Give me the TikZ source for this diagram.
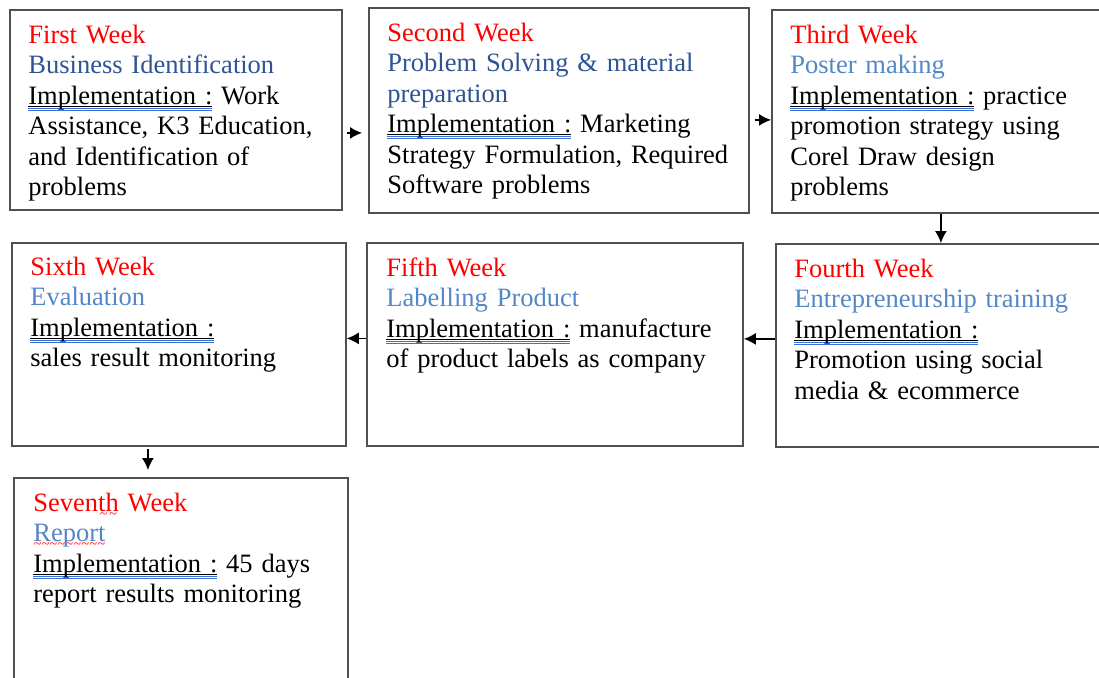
\documentclass[tikz,border=0pt]{standalone}
\usepackage{fontspec}
\setmainfont{Liberation Serif}
\usetikzlibrary{arrows.meta,calc}
\definecolor{weekred}{RGB}{255,0,0}
\definecolor{topicdark}{RGB}{47,84,150}
\definecolor{topiclight}{RGB}{84,135,198}
\definecolor{gramblue}{RGB}{60,110,220}
\definecolor{boxgray}{RGB}{80,80,80}
\newsavebox\implbox
\newsavebox\wavebox
\newcommand\implabel{%
  \leavevmode\sbox\implbox{Implementation :}%
  \rlap{\rule[-1.3pt]{\wd\implbox}{0.45pt}}%
  \rlap{\color{gramblue}\rule[-2.3pt]{\wd\implbox}{0.35pt}}%
  \rlap{\color{gramblue}\rule[-3.3pt]{\wd\implbox}{0.35pt}}%
  \usebox\implbox}
\newcommand\spellwave[1]{%
  \leavevmode\sbox\wavebox{#1}%
  \rlap{\color{red}\lower3.6pt\hbox to \wd\wavebox{\fontsize{7pt}{7pt}\selectfont
    \xleaders\hbox{\char"007E}\hfill}}%
  \usebox\wavebox}
\begin{document}
\begin{tikzpicture}[x=0.5pt, y=-0.5pt, >={Latex[length=6pt,width=6pt]},
    weekbox/.style={draw=boxgray, line width=0.9pt, inner sep=0pt, anchor=north west},
    weektext/.style={anchor=base west, inner sep=0pt, text width=180pt, align=left,
      font=\fontsize{13.25pt}{15.25pt}\selectfont},
    flow/.style={->, line width=0.7pt}]
\useasboundingbox (0,0) rectangle (1099,677);
% week boxes
\node[weekbox, minimum width=166pt, minimum height=100pt] (w1) at (9,9) {};
\node[weekbox, minimum width=190pt, minimum height=102.5pt] (w2) at (368,7) {};
\node[weekbox, minimum width=165pt, minimum height=101.5pt] (w3) at (771,9) {};
\node[weekbox, minimum width=165pt, minimum height=101.5pt] (w4) at (775,243) {};
\node[weekbox, minimum width=188pt, minimum height=101.5pt] (w5) at (366,242) {};
\node[weekbox, minimum width=167pt, minimum height=101.5pt] (w6) at (11,242) {};
\node[weekbox, minimum width=167pt, minimum height=115pt] (w7) at (13,477) {};
% texts
\node[weektext] (t1) at ($(w1.north west)+(19,34)$) {{\color{weekred}First Week}\\
  {\color{topicdark}Business Identification}\\
  \implabel\ Work\\ Assistance, K3 Education,\\ and Identification of\\ problems};
\node[weektext] (t2) at ($(w2.north west)+(19,34)$) {{\color{weekred}Second Week}\\
  {\color{topicdark}Problem Solving \& material}\\ {\color{topicdark}preparation}\\
  \implabel\ Marketing\\ Strategy Formulation, Required\\ Software problems};
\node[weektext] (t3) at ($(w3.north west)+(19,34)$) {{\color{weekred}Third Week}\\
  {\color{topiclight}Poster making}\\
  \implabel\ practice\\ promotion strategy using\\ Corel Draw design\\ problems};
\node[weektext] (t4) at ($(w4.north west)+(19,34)$) {{\color{weekred}Fourth Week}\\
  {\color{topiclight}Entrepreneurship training}\\
  \implabel\\ Promotion using social\\ media \& ecommerce};
\node[weektext] (t5) at ($(w5.north west)+(20,34)$) {{\color{weekred}Fifth Week}\\
  {\color{topiclight}Labelling Product}\\
  \implabel\ manufacture\\ of product labels as company};
\node[weektext] (t6) at ($(w6.north west)+(19,33)$) {{\color{weekred}Sixth Week}\\
  {\color{topiclight}Evaluation}\\
  \implabel\\ sales result monitoring};
\node[weektext] (t7) at ($(w7.north west)+(20,34)$) {{\color{weekred}Seven\spellwave{th} Week}\\
  {\color{topiclight}\spellwave{Report}}\\
  \implabel\ 45 days\\ report results monitoring};
% arrows
\draw[flow, shorten <=2pt, shorten >=3pt] ([yshift=-11.5pt]w1.east) -- ([yshift=-11.5pt]w1.east -| w2.west);
\draw[flow, shorten <=2.5pt] ([yshift=-4.75pt]w2.east) -- ([yshift=-4.75pt]w2.east -| w3.west);
\draw[flow] ([xshift=2pt]w3.south) -- ([xshift=2pt]w3.south |- w4.north);
\draw[flow] ([yshift=3.25pt]w4.west) -- ([yshift=3.25pt]w4.west -| w5.east);
\draw[flow] ([yshift=3pt]w5.west) -- ([yshift=3pt]w5.west -| w6.east);
\draw[flow, shorten <=1pt, shorten >=3.5pt] ([xshift=-15.5pt]w6.south) -- ([xshift=-15.5pt]w6.south |- w7.north);
\end{tikzpicture}
\end{document}
